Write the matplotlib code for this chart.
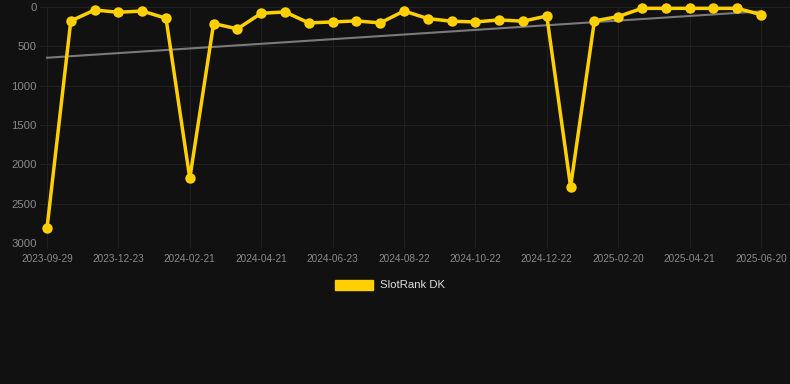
import matplotlib.pyplot as plt
from matplotlib.patches import Patch

plt.rcParams['font.family'] = ['Liberation Sans', 'DejaVu Sans']

# rank values, one point per snapshot (lower = better)
ranks = [2810, 177, 38, 67, 51, 143, 2178, 211, 278, 80, 63,
         202, 190, 177, 202, 51, 147, 181, 190, 164, 181, 114,
         2284, 177, 122, 17, 17, 17, 17, 17, 97]
# tick labels shown on every third point
tick_labels = ['2023-09-29', '2023-12-23', '2024-02-21', '2024-04-21',
               '2024-06-23', '2024-08-22', '2024-10-22', '2024-12-22',
               '2025-02-20', '2025-04-21', '2025-06-20']
tick_idx = [0, 3, 6, 9, 12, 15, 18, 21, 24, 27, 30]
# trend line endpoints
trend_x = [0, 30]
trend_y = [645, 55]
y_ticks = [0, 500, 1000, 1500, 2000, 2500, 3000]

bg = '#111111'
gold = '#ffd000'

fig = plt.figure(figsize=(7.9, 3.84), dpi=100, facecolor=bg)
ax = fig.add_axes([40 / 790, 1 - 243 / 384, 750 / 790, 236 / 384])
ax.set_facecolor(bg)

x = list(range(len(ranks)))
ax.plot(trend_x, trend_y, color='#7a7a7a', lw=1.5, zorder=2)
ax.plot(x, ranks, color=gold, lw=2.5, marker='o', markersize=7.5,
        markeredgewidth=0, clip_on=False, zorder=3)

ax.set_xlim(-7 / 23.8, 30 + 29 / 23.8)
ax.set_ylim(3000, 0)
ax.set_yticks(y_ticks)
ax.set_xticks(tick_idx)
ax.set_xticklabels(tick_labels)

ax.grid(True, color='#202020', lw=0.8)
for s in ax.spines.values():
    s.set_visible(False)
ax.tick_params(axis='y', length=0, pad=2.2, labelsize=8.2, labelcolor='#8a8a8a')
ax.tick_params(axis='x', length=3.5, width=0.8, color='#202020', pad=4.5,
               labelsize=7.2, labelcolor='#8a8a8a')

fig.legend(handles=[Patch(facecolor=gold, edgecolor=gold, label='SlotRank DK')],
           loc='center', bbox_to_anchor=(390 / 790, 1 - 285 / 384),
           frameon=False, fontsize=8.2, labelcolor='#dddddd',
           handlelength=3.4, handleheight=1.0, handletextpad=0.6)

fig.savefig('out.png', dpi=100, facecolor=bg)
